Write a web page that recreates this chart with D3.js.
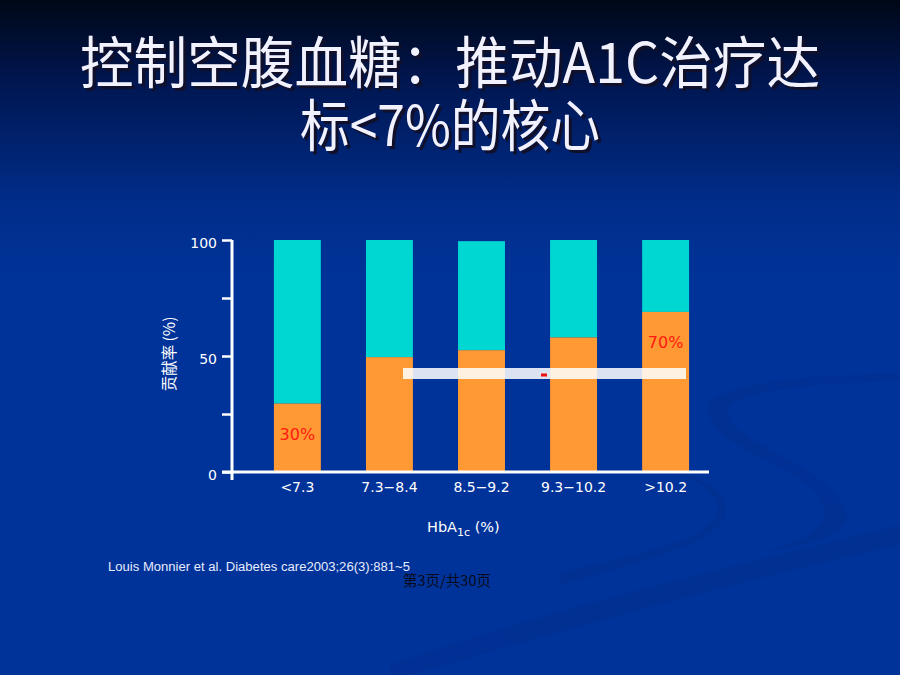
<!DOCTYPE html>
<html>
<head>
<meta charset="utf-8">
<script src="https://cdn.jsdelivr.net/npm/d3@7"></script>
<style>
  html, body { margin: 0; padding: 0; background: #003399; }
  svg { display: block; }
</style>
</head>
<body>
<div id="chart"></div>
<script>
// Datos del gráfico
const categories = ["<7.3", "7.3\u22128.4", "8.5\u22129.2", "9.3\u221210.2", ">10.2"];
const fastingValues = [29.5, 49.5, 52.5, 58, 69];     // parte naranja
const totalValues = [100, 100, 99.5, 100, 100];       // parte superior (turquesa)
const yTicks = [0, 25, 50, 75, 100];
const yTickLabels = ["0", "", "50", "", "100"];
const barLabels = ["30%", "", "", "", "70%"];

const width = 900;
const height = 675;
const margin = { top: 240, left: 232 };
const innerWidth = 477;
const innerHeight = 232;

const svg = d3.select("#chart")
    .append("svg")
    .attr("width", width)
    .attr("height", height);

// Fondo con degradado
const defs = svg.append("defs");
const grad = defs.append("linearGradient")
    .attr("id", "bg")
    .attr("x1", 0).attr("y1", 0).attr("x2", 0).attr("y2", 1);
grad.append("stop").attr("offset", "0").attr("stop-color", "#000716");
grad.append("stop").attr("offset", "0.12").attr("stop-color", "#001650");
grad.append("stop").attr("offset", "0.3").attr("stop-color", "#002d8a");
grad.append("stop").attr("offset", "0.42").attr("stop-color", "#003399");
grad.append("stop").attr("offset", "1").attr("stop-color", "#003399");

svg.append("rect")
    .attr("width", width)
    .attr("height", height)
    .attr("fill", "url(#bg)");

// Curvas decorativas del fondo (muy tenues)
const swirl = svg.append("g").attr("fill", "#002e8e").attr("opacity", 0.55);
swirl.append("path")
    .attr("d", "M 708 412 C 700 388 790 374 900 374 L 900 381 C 800 383 722 393 728 416 C 738 446 835 466 847 515 C 850 535 800 548 765 552 C 825 535 835 518 815 492 C 785 460 716 448 708 412 Z");
swirl.append("path")
    .attr("d", "M 560 572 C 640 555 718 538 718 508 C 716 488 690 476 655 468 C 700 474 728 490 726 512 C 724 540 650 560 560 585 Z");
swirl.append("path")
    .attr("d", "M 390 665 C 560 605 760 560 900 525 L 900 545 C 760 575 580 625 410 675 L 390 675 Z");

// Título con sombra
const titleLines = [
    { text: "控制空腹血糖：推动A1C治疗达", y: 83, len: 740 },
    { text: "标<7%的核心", y: 146, len: 300 }
];
titleLines.forEach(l => {
    svg.append("text")
        .attr("x", 453).attr("y", l.y + 3)
        .attr("text-anchor", "middle")
        .attr("textLength", l.len)
        .attr("lengthAdjust", "spacingAndGlyphs")
        .attr("font-family", "'Noto Sans CJK SC'")
        .attr("font-size", 56)
        .attr("fill", "#10102a")
        .text(l.text);
    svg.append("text")
        .attr("x", 450).attr("y", l.y)
        .attr("text-anchor", "middle")
        .attr("textLength", l.len)
        .attr("lengthAdjust", "spacingAndGlyphs")
        .attr("font-family", "'Noto Sans CJK SC'")
        .attr("font-size", 56)
        .attr("fill", "#f2f2ff")
        .text(l.text);
});

const g = svg.append("g")
    .attr("transform", `translate(${margin.left},${margin.top})`);

// Escalas
const x = d3.scaleBand()
    .domain(categories)
    .range([23.5, 475.5])
    .paddingInner(0.49)
    .paddingOuter(0.2);

const y = d3.scaleLinear()
    .domain([0, 100])
    .range([innerHeight, 0]);

const rows = categories.map((c, i) => ({
    cat: c, low: fastingValues[i], total: totalValues[i], label: barLabels[i]
}));

// Barras apiladas
g.selectAll(".bar-top")
    .data(rows)
    .enter()
    .append("rect")
    .attr("x", d => x(d.cat))
    .attr("y", d => y(d.total))
    .attr("width", x.bandwidth())
    .attr("height", d => y(d.low) - y(d.total))
    .attr("fill", "#00d6d2");

g.selectAll(".bar-low")
    .data(rows)
    .enter()
    .append("rect")
    .attr("x", d => x(d.cat))
    .attr("y", d => y(d.low))
    .attr("width", x.bandwidth())
    .attr("height", d => innerHeight - y(d.low))
    .attr("fill", "#ff9933");

// Etiquetas rojas
g.selectAll(".bar-label")
    .data(rows.filter(d => d.label))
    .enter()
    .append("text")
    .attr("x", d => x(d.cat) + x.bandwidth() / 2)
    .attr("y", d => y(d.low) + 36)
    .attr("text-anchor", "middle")
    .attr("font-family", "'DejaVu Sans'")
    .attr("font-size", 16)
    .attr("fill", "#ff1a10")
    .text(d => d.label);

// Eje Y
const yAxis = g.append("g")
    .call(d3.axisLeft(y)
        .tickValues(yTicks)
        .tickSize(10)
        .tickSizeOuter(0)
        .tickPadding(5)
        .tickFormat((d, i) => yTickLabels[i]));
yAxis.select(".domain").remove();
yAxis.selectAll(".tick line").attr("stroke", "#fff").attr("stroke-width", 2.5);
yAxis.selectAll(".tick text")
    .attr("fill", "#fff")
    .attr("dy", "0.5em")
    .attr("font-family", "'DejaVu Sans'")
    .attr("font-size", 14);

// Eje X
const xAxis = g.append("g")
    .attr("transform", `translate(0,${innerHeight})`)
    .call(d3.axisBottom(x).tickSize(0).tickPadding(10));
xAxis.select(".domain").remove();
xAxis.selectAll(".tick text")
    .attr("fill", "#fff")
    .attr("font-family", "'DejaVu Sans'")
    .attr("font-size", 14);

// Líneas de los ejes
g.append("line")
    .attr("x1", 0).attr("x2", 0)
    .attr("y1", y(100)).attr("y2", innerHeight + 8)
    .attr("stroke", "#fff").attr("stroke-width", 3);
g.append("line")
    .attr("x1", -10).attr("x2", innerWidth)
    .attr("y1", innerHeight).attr("y2", innerHeight)
    .attr("stroke", "#fff").attr("stroke-width", 3);

// Título eje Y
g.append("text")
    .attr("transform", "rotate(-90)")
    .attr("x", -(innerHeight / 2) + 2)
    .attr("y", -57)
    .attr("text-anchor", "middle")
    .attr("font-family", "'Noto Sans CJK SC'")
    .attr("font-size", 15.5)
    .attr("fill", "#fff")
    .text("贡献率 (%)");

// Título eje X
const xt = svg.append("text")
    .attr("x", 427)
    .attr("y", 532)
    .attr("font-family", "'DejaVu Sans'")
    .attr("font-size", 14.5)
    .attr("fill", "#fff");
xt.append("tspan").text("HbA");
xt.append("tspan").attr("font-size", 11).attr("dy", 4).text("1c");
xt.append("tspan").attr("dy", -4).text(" (%)");

// Franja blanca semitransparente (artefacto)
svg.append("rect")
    .attr("x", 403).attr("y", 368)
    .attr("width", 283).attr("height", 11)
    .attr("fill", "#fff").attr("opacity", 0.86);
svg.append("rect")
    .attr("x", 541).attr("y", 373.5)
    .attr("width", 6).attr("height", 3)
    .attr("fill", "#ee1111");

// Referencia
svg.append("text")
    .attr("x", 108).attr("y", 571)
    .attr("textLength", 302)
    .attr("lengthAdjust", "spacingAndGlyphs")
    .attr("font-family", "'Liberation Sans'")
    .attr("font-size", 12.5)
    .attr("fill", "#e8ecff")
    .text("Louis Monnier et al. Diabetes care2003;26(3):881~5");

// Número de página
svg.append("text")
    .attr("x", 403).attr("y", 586)
    .attr("textLength", 88)
    .attr("lengthAdjust", "spacingAndGlyphs")
    .attr("font-family", "'Noto Sans CJK SC'")
    .attr("font-size", 14.5)
    .attr("fill", "#0a0a1a")
    .text("第3页/共30页");
</script>
</body>
</html>
